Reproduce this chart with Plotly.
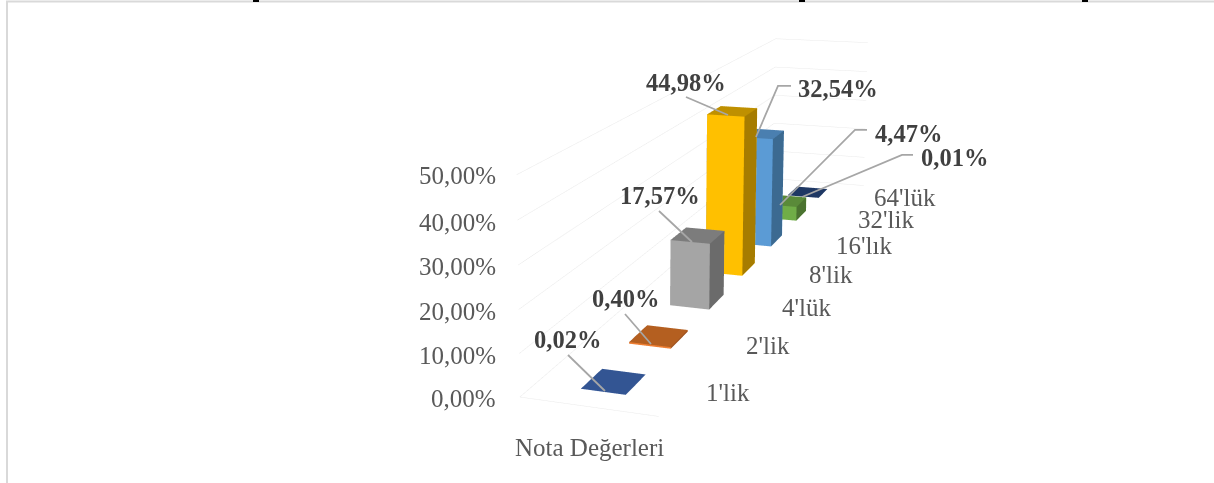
import numpy as np
import plotly.graph_objects as go

W, H = 1214, 483

# ---- chart data -------------------------------------------------------
categories = ["1'lik", "2'lik", "4'lük", "8'lik", "16'lık", "32'lik", "64'lük"]
values = [0.02, 0.40, 17.57, 44.98, 32.54, 4.47, 0.01]
value_labels = ["0,02%", "0,40%", "17,57%", "44,98%", "32,54%", "4,47%", "0,01%"]
tick_values = [0, 10, 20, 30, 40, 50]
tick_labels = ["0,00%", "10,00%", "20,00%", "30,00%", "40,00%", "50,00%"]
axis_title = "Nota Değerleri"
front_colors = ["#4472C4", "#ED7D31", "#A5A5A5", "#FFC000", "#5B9BD5", "#70AD47", "#264478"]
top_colors = ["#335593", "#B45F20", "#7C7C7C", "#BF9000", "#4A7FB0", "#5A8A39", "#1F3864"]
side_colors = ["#2A4A80", "#9A5120", "#6B6B6B", "#A67C00", "#3C6A91", "#4B7330", "#1A2F55"]

# ---- how the box (u across, v depth, w height; each 0..1) sits in the scene
BOX_VIEW = {(0, 0, 0): (520, 397), (1, 0, 0): (659, 416), (0, 1, 0): (775, 178), (1, 1, 0): (864, 185),
            (0, 0, 1): (517, 173), (0, 1, 1): (775, 40), (1, 1, 1): (868, 43), (0, 0, .2): (520, 354),
            (0, 0, .6): (517, 266), (0, 1, .6): (775, 94), (1, 1, .6): (867, 100),
            (.5, 1/14, 0): (614, 381.5), (.5, 3/14, 0): (659, 337), (.5, 5/14, 0): (697, 301),
            (.5, 7/14, 0): (730, 268), (.5, 13/14, 0): (805, 193)}
CX, CY, FOCAL, EYE = W / 2, H / 2, (H / 2) / np.tan(np.pi / 8), 3.0

rows = []
for (u, v, w), (px, py) in BOX_VIEW.items():
    p = [u, v, w, 1]
    sx, sy = (px - CX) / FOCAL, (CY - py) / FOCAL
    rows.append(p + [0, 0, 0, 0] + [-sx * c for c in p])
    rows.append([0, 0, 0, 0] + p + [-sy * c for c in p])
sol = np.linalg.svd(np.array(rows))[2][-1]
MX, MZ, MQ = sol[:4], sol[4:8], sol[8:]
scale = EYE / (MQ @ [.5, .5, .5, 1])
MX, MZ, MQ = MX * scale, MZ * scale, MQ * scale


def to_scene(u, v, w):
    p = np.array([u, v, w, 1.0])
    return float(MX @ p), float(MQ @ p - EYE), float(MZ @ p)


BAR_U = (0.335, 0.665)
BAR_DEPTH = 0.42
SLOTS = len(categories)
fig = go.Figure()

# walls and floor edges
for t in tick_values:
    w = t / tick_values[-1]
    pts = [to_scene(0, 0, w), to_scene(0, 1, w), to_scene(1, 1, w)]
    fig.add_trace(go.Scatter3d(x=[a[0] for a in pts], y=[a[1] for a in pts], z=[a[2] for a in pts], mode="lines",
                               line=dict(color="#EAEAEA", width=1), hoverinfo="skip", showlegend=False))
pts = [to_scene(0, 0, 0), to_scene(1, 0, 0)]
fig.add_trace(go.Scatter3d(x=[a[0] for a in pts], y=[a[1] for a in pts], z=[a[2] for a in pts], mode="lines",
                           line=dict(color="#EAEAEA", width=1), hoverinfo="skip", showlegend=False))

# columns
for n, val in enumerate(values):
    u0, u1 = BAR_U
    v0, v1 = (n + .5 - BAR_DEPTH / 2) / SLOTS, (n + .5 + BAR_DEPTH / 2) / SLOTS
    w1 = val / tick_values[-1]
    corners = [to_scene(u, v, w) for w in (0, w1) for v in (v0, v1) for u in (u0, u1)]
    xs, ys, zs = zip(*corners)
    #        front       back        left        right       bottom      top
    tri_i = [0, 0,       2, 2,       0, 0,       1, 1,       0, 0,       4, 4]
    tri_j = [1, 5,       3, 7,       2, 6,       3, 7,       1, 3,       5, 7]
    tri_k = [5, 4,       7, 6,       6, 4,       7, 5,       3, 2,       7, 6]
    colors = [front_colors[n]] * 2 + [front_colors[n]] * 2 + [side_colors[n]] * 4 + [front_colors[n]] * 2 + [top_colors[n]] * 2
    fig.add_trace(go.Mesh3d(x=xs, y=ys, z=zs, i=tri_i, j=tri_j, k=tri_k, facecolor=colors, flatshading=True,
                            lighting=dict(ambient=1, diffuse=0, specular=0, fresnel=0, roughness=1),
                            hoverinfo="skip", showscale=False))

hidden = dict(visible=False, range=[-2, 2], autorange=False, showspikes=False)
scene = dict(domain=dict(x=[0, 1], y=[0, 1]), xaxis=hidden, yaxis=hidden, zaxis=hidden, bgcolor="white",
             aspectmode="manual", aspectratio=dict(x=4, y=4, z=4),
             camera=dict(eye=dict(x=0, y=-EYE, z=0), center=dict(x=0, y=0, z=0), up=dict(x=0, y=0, z=1)))

FONT = "Liberation Serif"
annotations = []


def label(text, x, y, size, color, anchor="center", bold=False):
    annotations.append(dict(text=f"<b>{text}</b>" if bold else text, x=x / W, y=1 - y / H, xref="paper", yref="paper",
                            xanchor=anchor, yanchor="middle", showarrow=False,
                            font=dict(family=FONT, size=size, color=color)))


TICK_Y = [398, 355, 311, 266, 222, 175]
for t, y in zip(tick_labels, TICK_Y):
    label(t, 498, y, 25, "#595959", anchor="right")
CAT_POS = [(728, 392), (768, 345), (806, 307), (831, 274), (864, 245), (886, 219), (905, 197)]
for c, (x, y) in zip(categories, CAT_POS):
    label(c, x, y, 25, "#595959")
label(axis_title, 589, 447, 25, "#595959")
VALUE_POS = [(567, 339), (625, 298), (660, 195), (686, 82), (838, 88), (908, 133), (954, 157)]
for t, (x, y) in zip(value_labels, VALUE_POS):
    label(t, x, y, 24.5, "#404040", bold=True)

LEADERS = [[(568, 355), (605, 391)], [(625, 314), (651, 344)], [(659, 211), (692, 242)], [(686, 97), (728, 115)],
           [(756, 137), (778, 86), (791, 86)], [(780, 205), (855, 130), (867, 130)],
           [(802, 197), (902, 155), (913, 155)]]


def paper_path(points):
    return "M " + " L ".join(f"{x / W:.5f} {1 - y / H:.5f}" for x, y in points)


shapes = [dict(type="path", xref="paper", yref="paper", path=paper_path(l), line=dict(color="#A6A6A6", width=1.75))
          for l in LEADERS]
# page frame and the clipped glyph stubs along its top edge
shapes.append(dict(type="path", xref="paper", yref="paper", path=paper_path([(7, H), (7, 1.5), (W, 1.5)]),
                   line=dict(color="#D9D9D9", width=2)))
for x in (256, 802, 1085):
    shapes.append(dict(type="rect", xref="paper", yref="paper", x0=(x - 3) / W, x1=(x + 3) / W, y0=1 - 2 / H, y1=1,
                       fillcolor="#000000", line=dict(width=0)))

fig.update_layout(width=W, height=H, margin=dict(l=0, r=0, t=0, b=0), paper_bgcolor="white", scene=scene,
                  annotations=annotations, shapes=shapes, showlegend=False, hovermode=False)
fig.write_html("out.html", config={"displayModeBar": False},
               post_script="document.body.style.margin='0';document.body.style.overflow='hidden';")
